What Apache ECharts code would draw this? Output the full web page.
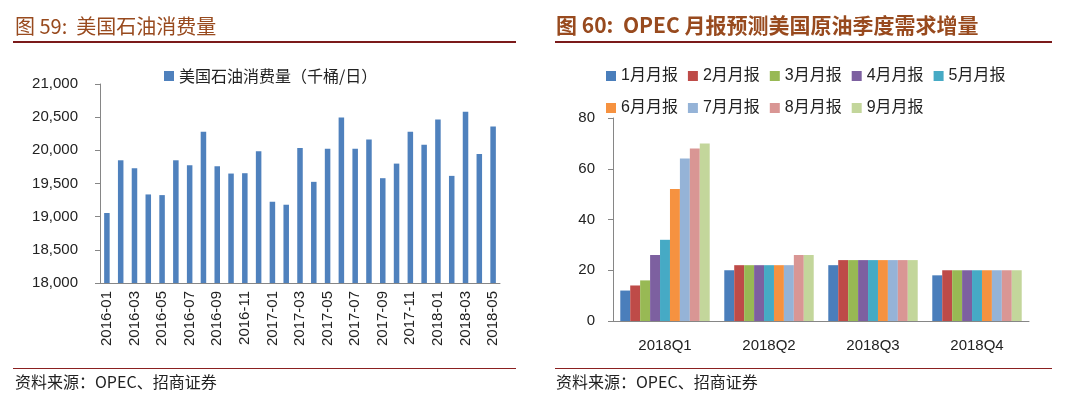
<!DOCTYPE html>
<html>
<head>
<meta charset="utf-8">
<script src="https://cdn.jsdelivr.net/npm/echarts@6/dist/echarts.min.js"></script>
<style>
  html, body { margin: 0; padding: 0; background: #fff; }
  #chart { width: 1071px; height: 398px; }
</style>
</head>
<body>
<div id="chart"></div>
<script>
// 图59 美国石油消费量（千桶/日）
const months = [
  '2016-01', '2016-02', '2016-03', '2016-04', '2016-05', '2016-06', '2016-07', '2016-08',
  '2016-09', '2016-10', '2016-11', '2016-12', '2017-01', '2017-02', '2017-03', '2017-04',
  '2017-05', '2017-06', '2017-07', '2017-08', '2017-09', '2017-10', '2017-11', '2017-12',
  '2018-01', '2018-02', '2018-03', '2018-04', '2018-05'
];
const usConsumption = [
  19055, 19850, 19730, 19335, 19325, 19850, 19775, 20280,
  19760, 19650, 19655, 19985, 19225, 19180, 20035, 19525,
  20025, 20495, 20025, 20165, 19580, 19800, 20280, 20085,
  20465, 19615, 20580, 19945, 20360
];

// 图60 OPEC 月报预测美国原油季度需求增量
const quarters = ['2018Q1', '2018Q2', '2018Q3', '2018Q4'];
const reportNames = ['1月月报', '2月月报', '3月月报', '4月月报', '5月月报', '6月月报', '7月月报', '8月月报', '9月月报'];
const report1 = [12, 20, 22, 18];
const report2 = [14, 22, 24, 20];
const report3 = [16, 22, 24, 20];
const report4 = [26, 22, 24, 20];
const report5 = [32, 22, 24, 20];
const report6 = [52, 22, 24, 20];
const report7 = [64, 22, 24, 20];
const report8 = [68, 26, 24, 20];
const report9 = [70, 26, 24, 20];
const reports = [report1, report2, report3, report4, report5, report6, report7, report8, report9];
const reportColors = ['#4a7ebb', '#be4b48', '#98b954', '#7d60a0', '#46aac5', '#f69240', '#95b3d7', '#d99694', '#c3d69b'];

const font = 'Liberation Sans, Noto Sans CJK SC, sans-serif';
const axisGrey = '#868686';

const chart = echarts.init(document.getElementById('chart'));

const option = {
  animation: false,
  textStyle: { fontFamily: font },
  graphic: [
    // 标题
    { type: 'text', left: 15, top: 16, style: { text: '图 59:  美国石油消费量', fill: '#984a1e', font: '20px Noto Sans CJK SC' } },
    { type: 'text', left: 556, top: 15, style: { text: '图 60:  OPEC 月报预测美国原油季度需求增量', fill: '#984a1e', font: 'bold 21px Noto Sans CJK SC' } },
    // 标题下划线
    { type: 'rect', shape: { x: 13, y: 41, width: 503, height: 2 }, style: { fill: '#7b1a1a' } },
    { type: 'rect', shape: { x: 555, y: 41, width: 497, height: 2 }, style: { fill: '#7b1a1a' } },
    // 底部线
    { type: 'line', shape: { x1: 13, y1: 368.5, x2: 516, y2: 368.5 }, style: { stroke: '#8b2020', lineWidth: 1 } },
    { type: 'line', shape: { x1: 555, y1: 368.5, x2: 1052, y2: 368.5 }, style: { stroke: '#8b2020', lineWidth: 1 } },
    // 资料来源
    { type: 'text', left: 15, top: 374, style: { text: '资料来源：OPEC、招商证券', fill: '#222', font: '16px Noto Sans CJK SC' } },
    { type: 'text', left: 556, top: 374, style: { text: '资料来源：OPEC、招商证券', fill: '#222', font: '16px Noto Sans CJK SC' } }
  ],
  legend: [
    {
      data: ['美国石油消费量（千桶/日）'],
      left: 159, top: 63,
      icon: 'rect', itemWidth: 10, itemHeight: 10, itemGap: 8,
      textStyle: { fontSize: 16, color: '#222', fontFamily: 'Noto Sans CJK SC' }
    },
    {
      data: reportNames.slice(0, 5),
      left: 601, top: 63,
      icon: 'rect', itemWidth: 10, itemHeight: 10, itemGap: 10,
      textStyle: { fontSize: 16, color: '#222', fontFamily: font }
    },
    {
      data: reportNames.slice(5),
      left: 601, top: 95,
      icon: 'rect', itemWidth: 10, itemHeight: 10, itemGap: 10,
      textStyle: { fontSize: 16, color: '#222', fontFamily: font }
    }
  ],
  grid: [
    { left: 100, right: 571, top: 84, bottom: 115 },
    { left: 613, right: 42, top: 118, bottom: 77 }
  ],
  xAxis: [
    {
      type: 'category', gridIndex: 0, data: months,
      axisLine: { lineStyle: { color: axisGrey } },
      axisTick: { interval: 1, length: 5, lineStyle: { color: axisGrey } },
      axisLabel: { interval: 1, rotate: 90, fontSize: 15, color: '#222', margin: 8 }
    },
    {
      type: 'category', gridIndex: 1, data: quarters,
      axisLine: { lineStyle: { color: axisGrey } },
      axisTick: { length: 5, lineStyle: { color: axisGrey } },
      axisLabel: { fontSize: 15, color: '#222', margin: 17 }
    }
  ],
  yAxis: [
    {
      type: 'value', gridIndex: 0, min: 18000, max: 21000, interval: 500,
      splitLine: { show: false },
      axisLine: { show: true, lineStyle: { color: axisGrey } },
      axisTick: { show: true, length: 5, lineStyle: { color: axisGrey } },
      axisLabel: { fontSize: 15, color: '#222', margin: 22, formatter: v => v.toLocaleString('en-US') }
    },
    {
      type: 'value', gridIndex: 1, min: 0, max: 80, interval: 20,
      splitLine: { show: false },
      axisLine: { show: true, lineStyle: { color: axisGrey } },
      axisTick: { show: true, length: 5, lineStyle: { color: axisGrey } },
      axisLabel: { fontSize: 15, color: '#222', margin: 18 }
    }
  ],
  series: [
    {
      name: '美国石油消费量（千桶/日）', type: 'bar',
      xAxisIndex: 0, yAxisIndex: 0,
      data: usConsumption,
      barCategoryGap: '60%',
      itemStyle: { color: '#4f81bd' }
    }
  ].concat(reports.map((d, i) => ({
    name: reportNames[i], type: 'bar',
    xAxisIndex: 1, yAxisIndex: 1,
    data: d,
    barGap: '0%',
    barCategoryGap: '14%',
    itemStyle: { color: reportColors[i] }
  })))
};

chart.setOption(option);
</script>
</body>
</html>
